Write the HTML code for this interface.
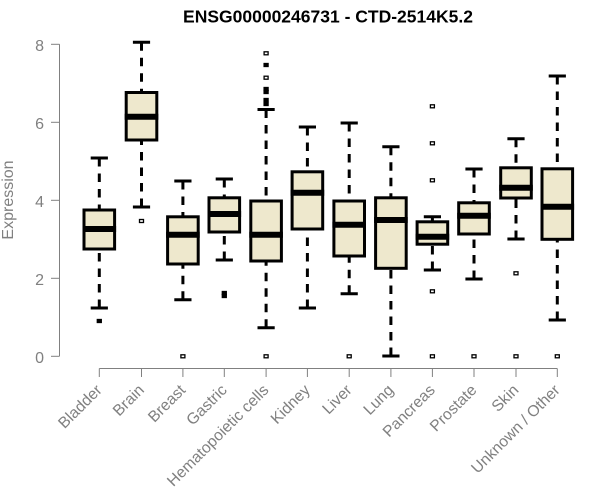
<!DOCTYPE html>
<html>
<head>
<meta charset="utf-8">
<style>
html,body{margin:0;padding:0;background:#fff;}
svg{display:block;}
.ax{stroke:#808080;stroke-width:1;fill:none;}
.w{stroke:#000;stroke-width:3;stroke-dasharray:8.5 7;fill:none;}
.cap{stroke:#000;stroke-width:3;}
.box{fill:#EEE8CD;stroke:#000;stroke-width:3;}
.med{stroke:#000;stroke-width:6;}
.o{fill:#fff;stroke:#000;stroke-width:1.3;}
.of{fill:#000;stroke:#000;stroke-width:1.3;}
.yt{font-family:"Liberation Sans",Arial,sans-serif;font-size:16px;fill:#808080;text-anchor:end;}
.xt{font-family:"Liberation Sans",Arial,sans-serif;font-size:15.7px;fill:#808080;text-anchor:end;}
</style>
</head>
<body>
<svg width="600" height="500" viewBox="0 0 600 500" xmlns="http://www.w3.org/2000/svg">
<rect width="600" height="500" fill="#fff"/>
<text x="328" y="22.7" font-family="Liberation Sans, Arial, sans-serif" font-size="17.5" font-weight="bold" text-anchor="middle" fill="#000">ENSG00000246731 - CTD-2514K5.2</text>

<!-- Y axis -->
<line class="ax" x1="59.5" y1="44.3" x2="59.5" y2="356.3"/>
<line class="ax" x1="51" y1="44.3" x2="59.5" y2="44.3"/>
<line class="ax" x1="51" y1="122.3" x2="59.5" y2="122.3"/>
<line class="ax" x1="51" y1="200.3" x2="59.5" y2="200.3"/>
<line class="ax" x1="51" y1="278.3" x2="59.5" y2="278.3"/>
<line class="ax" x1="51" y1="356.3" x2="59.5" y2="356.3"/>
<text class="yt" x="44" y="50.8">8</text>
<text class="yt" x="44" y="128.8">6</text>
<text class="yt" x="44" y="206.8">4</text>
<text class="yt" x="44" y="284.8">2</text>
<text class="yt" x="44" y="362.8">0</text>
<text x="13" y="200" transform="rotate(-90 13 200)" font-family="Liberation Sans, Arial, sans-serif" font-size="16" fill="#808080" text-anchor="middle">Expression</text>

<!-- X axis -->
<line class="ax" x1="99.3" y1="368.5" x2="557.3" y2="368.5"/>
<line class="ax" x1="99.3" y1="368.5" x2="99.3" y2="377"/>
<line class="ax" x1="141.5" y1="368.5" x2="141.5" y2="377"/>
<line class="ax" x1="182.9" y1="368.5" x2="182.9" y2="377"/>
<line class="ax" x1="224.3" y1="368.5" x2="224.3" y2="377"/>
<line class="ax" x1="266.1" y1="368.5" x2="266.1" y2="377"/>
<line class="ax" x1="307.4" y1="368.5" x2="307.4" y2="377"/>
<line class="ax" x1="349.2" y1="368.5" x2="349.2" y2="377"/>
<line class="ax" x1="390.9" y1="368.5" x2="390.9" y2="377"/>
<line class="ax" x1="432.4" y1="368.5" x2="432.4" y2="377"/>
<line class="ax" x1="474" y1="368.5" x2="474" y2="377"/>
<line class="ax" x1="516" y1="368.5" x2="516" y2="377"/>
<line class="ax" x1="557.3" y1="368.5" x2="557.3" y2="377"/>

<text class="xt" x="102.8" y="391" transform="rotate(-45 102.8 391)">Bladder</text>
<text class="xt" x="145" y="391" transform="rotate(-45 145 391)">Brain</text>
<text class="xt" x="186.4" y="391" transform="rotate(-45 186.4 391)">Breast</text>
<text class="xt" x="227.8" y="391" transform="rotate(-45 227.8 391)">Gastric</text>
<text class="xt" x="269.6" y="391" transform="rotate(-45 269.6 391)">Hematopoietic cells</text>
<text class="xt" x="310.9" y="391" transform="rotate(-45 310.9 391)">Kidney</text>
<text class="xt" x="352.7" y="391" transform="rotate(-45 352.7 391)">Liver</text>
<text class="xt" x="394.4" y="391" transform="rotate(-45 394.4 391)">Lung</text>
<text class="xt" x="435.9" y="391" transform="rotate(-45 435.9 391)">Pancreas</text>
<text class="xt" x="477.5" y="391" transform="rotate(-45 477.5 391)">Prostate</text>
<text class="xt" x="519.5" y="391" transform="rotate(-45 519.5 391)">Skin</text>
<text class="xt" x="560.8" y="391" transform="rotate(-45 560.8 391)">Unknown / Other</text>

<!-- Bladder c=99.3 -->
<line class="w" x1="99.3" y1="158" x2="99.3" y2="210"/>
<line class="w" x1="99.3" y1="308" x2="99.3" y2="249"/>
<rect class="box" x="84" y="210" width="30.6" height="39"/>
<line class="med" x1="82.5" y1="229" x2="116.1" y2="229"/>
<line class="cap" x1="90.7" y1="158" x2="107.9" y2="158"/>
<line class="cap" x1="90.7" y1="308" x2="107.9" y2="308"/>
<rect class="of" x="97.3" y="319.5" width="4" height="3"/>

<!-- Brain c=141.5 -->
<line class="w" x1="141.5" y1="42.3" x2="141.5" y2="92.5"/>
<line class="w" x1="141.5" y1="207" x2="141.5" y2="140"/>
<rect class="box" x="126.2" y="92.5" width="30.6" height="47.5"/>
<line class="med" x1="124.7" y1="116.7" x2="158.3" y2="116.7"/>
<line class="cap" x1="132.9" y1="42.3" x2="150.1" y2="42.3"/>
<line class="cap" x1="132.9" y1="207" x2="150.1" y2="207"/>
<rect class="o" x="139.5" y="219.5" width="4" height="3"/>

<!-- Breast c=182.9 -->
<line class="w" x1="182.9" y1="181" x2="182.9" y2="216.8"/>
<line class="w" x1="182.9" y1="299.7" x2="182.9" y2="264"/>
<rect class="box" x="167.6" y="216.8" width="30.6" height="47.2"/>
<line class="med" x1="166.1" y1="234.7" x2="199.7" y2="234.7"/>
<line class="cap" x1="174.3" y1="181" x2="191.5" y2="181"/>
<line class="cap" x1="174.3" y1="299.7" x2="191.5" y2="299.7"/>
<rect class="o" x="180.9" y="354.8" width="4" height="3"/>

<!-- Gastric c=224.3 -->
<line class="w" x1="224.3" y1="179" x2="224.3" y2="197.8"/>
<line class="w" x1="224.3" y1="260" x2="224.3" y2="232"/>
<rect class="box" x="209" y="197.8" width="30.6" height="34.2"/>
<line class="med" x1="207.5" y1="214" x2="241.1" y2="214"/>
<line class="cap" x1="215.7" y1="179" x2="232.9" y2="179"/>
<line class="cap" x1="215.7" y1="260" x2="232.9" y2="260"/>
<rect class="of" x="222.3" y="291.5" width="4" height="3"/>
<rect class="of" x="222.3" y="294.5" width="4" height="3"/>

<!-- Hemato c=266.1 -->
<line class="w" x1="266.1" y1="109.5" x2="266.1" y2="201"/>
<line class="w" x1="266.1" y1="327.7" x2="266.1" y2="261"/>
<rect class="box" x="250.8" y="201" width="30.6" height="60"/>
<line class="med" x1="249.3" y1="234.7" x2="282.9" y2="234.7"/>
<line class="cap" x1="257.5" y1="109.5" x2="274.7" y2="109.5"/>
<line class="cap" x1="257.5" y1="327.7" x2="274.7" y2="327.7"/>
<rect class="o" x="264.1" y="354.8" width="4" height="3"/>
<rect class="o" x="264.1" y="51.8" width="4" height="3"/>
<rect class="of" x="264.1" y="63.5" width="4" height="3"/>
<rect class="o" x="264.1" y="76.2" width="4" height="3"/>
<rect class="of" x="264.1" y="87.5" width="4" height="3"/>
<rect class="of" x="264.1" y="90.5" width="4" height="3"/>
<rect class="of" x="264.1" y="98.5" width="4" height="3"/>
<rect class="of" x="264.1" y="102.5" width="4" height="3"/>

<!-- Kidney c=307.4 -->
<line class="w" x1="307.4" y1="127" x2="307.4" y2="171.8"/>
<line class="w" x1="307.4" y1="308" x2="307.4" y2="229"/>
<rect class="box" x="292.1" y="171.8" width="30.6" height="57.2"/>
<line class="med" x1="290.6" y1="192.7" x2="324.2" y2="192.7"/>
<line class="cap" x1="298.8" y1="127" x2="316" y2="127"/>
<line class="cap" x1="298.8" y1="308" x2="316" y2="308"/>

<!-- Liver c=349.2 -->
<line class="w" x1="349.2" y1="123" x2="349.2" y2="201"/>
<line class="w" x1="349.2" y1="293.7" x2="349.2" y2="256"/>
<rect class="box" x="333.9" y="201" width="30.6" height="55"/>
<line class="med" x1="332.4" y1="224.7" x2="366" y2="224.7"/>
<line class="cap" x1="340.6" y1="123" x2="357.8" y2="123"/>
<line class="cap" x1="340.6" y1="293.7" x2="357.8" y2="293.7"/>
<rect class="o" x="347.2" y="354.8" width="4" height="3"/>

<!-- Lung c=390.9 -->
<line class="w" x1="390.9" y1="146.7" x2="390.9" y2="197.8"/>
<line class="w" x1="390.9" y1="356" x2="390.9" y2="268.3"/>
<rect class="box" x="375.6" y="197.8" width="30.6" height="70.5"/>
<line class="med" x1="374.1" y1="220" x2="407.7" y2="220"/>
<line class="cap" x1="382.3" y1="146.7" x2="399.5" y2="146.7"/>
<line class="cap" x1="382.3" y1="356" x2="399.5" y2="356"/>

<!-- Pancreas c=432.4 -->
<line class="w" x1="432.4" y1="216.7" x2="432.4" y2="221.8"/>
<line class="w" x1="432.4" y1="270" x2="432.4" y2="244.2"/>
<rect class="box" x="417.1" y="221.8" width="30.6" height="22.4"/>
<line class="med" x1="415.6" y1="236.7" x2="449.2" y2="236.7"/>
<line class="cap" x1="423.8" y1="216.7" x2="441" y2="216.7"/>
<line class="cap" x1="423.8" y1="270" x2="441" y2="270"/>
<rect class="o" x="430.4" y="104.8" width="4" height="3"/>
<rect class="o" x="430.4" y="141.8" width="4" height="3"/>
<rect class="o" x="430.4" y="178.8" width="4" height="3"/>
<rect class="o" x="430.4" y="289.8" width="4" height="3"/>
<rect class="o" x="430.4" y="354.8" width="4" height="3"/>

<!-- Prostate c=474 -->
<line class="w" x1="474" y1="169" x2="474" y2="202.8"/>
<line class="w" x1="474" y1="279" x2="474" y2="234"/>
<rect class="box" x="458.7" y="202.8" width="30.6" height="31.2"/>
<line class="med" x1="457.2" y1="215.7" x2="490.8" y2="215.7"/>
<line class="cap" x1="465.4" y1="169" x2="482.6" y2="169"/>
<line class="cap" x1="465.4" y1="279" x2="482.6" y2="279"/>
<rect class="o" x="472" y="354.8" width="4" height="3"/>

<!-- Skin c=516 -->
<line class="w" x1="516" y1="138.7" x2="516" y2="167.8"/>
<line class="w" x1="516" y1="239" x2="516" y2="198"/>
<rect class="box" x="500.7" y="167.8" width="30.6" height="30.2"/>
<line class="med" x1="499.2" y1="187.7" x2="532.8" y2="187.7"/>
<line class="cap" x1="507.4" y1="138.7" x2="524.6" y2="138.7"/>
<line class="cap" x1="507.4" y1="239" x2="524.6" y2="239"/>
<rect class="o" x="514" y="271.8" width="4" height="3"/>
<rect class="o" x="514" y="354.8" width="4" height="3"/>

<!-- Unknown c=557.3 -->
<line class="w" x1="557.3" y1="76" x2="557.3" y2="168.8"/>
<line class="w" x1="557.3" y1="320" x2="557.3" y2="239.3"/>
<rect class="box" x="542" y="168.8" width="30.6" height="70.5"/>
<line class="med" x1="540.5" y1="206.7" x2="574.1" y2="206.7"/>
<line class="cap" x1="548.7" y1="76" x2="565.9" y2="76"/>
<line class="cap" x1="548.7" y1="320" x2="565.9" y2="320"/>
<rect class="o" x="555.3" y="354.8" width="4" height="3"/>
</svg>
</body>
</html>
